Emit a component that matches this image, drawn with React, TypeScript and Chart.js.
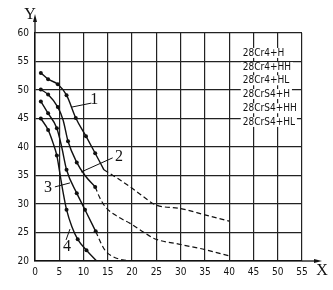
import React, { useEffect, useRef } from "react";
import { Chart, registerables } from "chart.js";
Chart.register(...registerables);

const xTicks = [0, 5, 10, 15, 20, 25, 30, 35, 40, 45, 50, 55];
const yTicks = [20, 25, 30, 35, 40, 45, 50, 55, 60];

const curve1X = [1.2, 2.7, 4.7, 6.5, 8.4, 10.5, 12.4, 14.2];
const curve1Y = [53, 51.9, 51, 49.1, 45.1, 41.9, 38.9, 36];
const curve1Dot = [1, 1, 1, 1, 1, 1, 1, 0];

const dash1X = [14.2, 17, 19.6, 22, 24.7, 30, 35, 40];
const dash1Y = [36, 34.5, 33, 31.5, 29.9, 29.2, 28.1, 27];

const curve2X = [1.2, 2.7, 4.7, 5.8, 6.8, 8.6, 10.3, 12.4];
const curve2Y = [50.1, 49.2, 47, 44.7, 41, 37.3, 35, 33];
const curve2Dot = [1, 1, 1, 0, 1, 1, 0, 1];

const dash2X = [12.4, 13.4, 14.4, 17, 19.6, 22.3, 24.4, 30, 35, 40];
const dash2Y = [33, 31, 29.6, 27.8, 26.6, 25.1, 24, 22.9, 22, 20.9];

const curve3X = [1.2, 2.7, 4.5, 5.5, 6.5, 8.6, 10.3, 12.5];
const curve3Y = [48, 45.9, 43.3, 40, 36, 31.9, 29, 25.2];
const curve3Dot = [1, 1, 1, 0, 1, 1, 1, 1];

const dash3X = [12.5, 13.5, 14.5, 16, 18, 20];
const dash3Y = [25.2, 23.3, 21.8, 20.8, 20.2, 20];

const curve4X = [1.2, 2.7, 3.8, 4.5, 5.2, 5.8, 6.5, 7.6, 8.8, 10.6, 12.7];
const curve4Y = [45, 43, 40.5, 38.5, 35, 32, 29, 26, 23.8, 21.9, 20];
const curve4Dot = [1, 1, 0, 1, 0, 0, 1, 0, 1, 1, 0];

const legendLabels = ["28Cr4+H", "28Cr4+HH", "28Cr4+HL", "28CrS4+H", "28CrS4+HH", "28CrS4+HL"];
const legendX = 42.8;
const legendY = [56.5, 54.0, 51.7, 49.3, 46.8, 44.4];

const curveLabels = ["1", "2", "3", "4"];
const curveLabelX = [12.2, 17.3, 2.7, 6.6];
const curveLabelY = [48.2, 38.2, 32.8, 22.5];
const leaderFromX = [7.56, 9.47, 4.1, 6.4];
const leaderFromY = [47, 35.6, 33, 23.7];
const leaderToX = [11.6, 16.0, 7.2, 7.2];
const leaderToY = [47.7, 38.1, 33.7, 25.6];

const toPts = (xs: number[], ys: number[]) => xs.map((x, i) => ({ x, y: ys[i] }));

const TICK_FONT = "'Liberation Sans Narrow', 'DejaVu Sans Condensed', Arial, sans-serif";
const SERIF = "'Liberation Serif', 'DejaVu Serif', serif";

const overlay = {
  id: "overlay",
  afterDraw(chart: any) {
    const { ctx, chartArea, scales } = chart;
    const xs = scales.x;
    const ys = scales.y;
    ctx.save();
    ctx.strokeStyle = "#111";
    ctx.fillStyle = "#111";
    ctx.lineWidth = 1.3;
    // Y axis arrow
    const ax = chartArea.left;
    ctx.beginPath();
    ctx.moveTo(ax, chartArea.top);
    ctx.lineTo(ax, chartArea.top - 15);
    ctx.stroke();
    ctx.beginPath();
    ctx.moveTo(ax, chartArea.top - 19);
    ctx.lineTo(ax - 2, chartArea.top - 11);
    ctx.lineTo(ax + 2, chartArea.top - 11);
    ctx.closePath();
    ctx.fill();
    // X axis arrow
    const ay = chartArea.bottom;
    ctx.beginPath();
    ctx.moveTo(chartArea.right, ay);
    ctx.lineTo(chartArea.right + 16, ay);
    ctx.stroke();
    ctx.beginPath();
    ctx.moveTo(chartArea.right + 20, ay);
    ctx.lineTo(chartArea.right + 12, ay - 2);
    ctx.lineTo(chartArea.right + 12, ay + 2);
    ctx.closePath();
    ctx.fill();
    // axis titles
    ctx.font = `16px ${SERIF}`;
    ctx.textAlign = "center";
    ctx.textBaseline = "middle";
    ctx.fillText("Y", ax - 5, chartArea.top - 18);
    ctx.fillText("X", chartArea.right + 20, ay + 10);
    // legend
    ctx.font = `10px ${TICK_FONT}`;
    ctx.textAlign = "left";
    legendLabels.forEach((t, i) => {
      const px = xs.getPixelForValue(legendX);
      const py = ys.getPixelForValue(legendY[i]);
      const w = ctx.measureText(t).width;
      ctx.fillStyle = "#fff";
      ctx.fillRect(px - 2, py - 5, w + 4, 10);
      ctx.fillStyle = "#111";
      ctx.fillText(t, px, py);
    });
    // curve labels and leaders
    ctx.lineWidth = 1;
    curveLabels.forEach((t, i) => {
      ctx.beginPath();
      ctx.moveTo(xs.getPixelForValue(leaderFromX[i]), ys.getPixelForValue(leaderFromY[i]));
      ctx.lineTo(xs.getPixelForValue(leaderToX[i]), ys.getPixelForValue(leaderToY[i]));
      ctx.stroke();
      ctx.font = `16px ${SERIF}`;
      ctx.textAlign = "center";
      ctx.fillText(t, xs.getPixelForValue(curveLabelX[i]), ys.getPixelForValue(curveLabelY[i]));
    });
    ctx.restore();
  },
};

export default function App() {
  const ref = useRef<HTMLCanvasElement>(null);
  useEffect(() => {
    document.body.style.margin = "0";
    const solid = (label: string, xs: number[], ys: number[], dots: number[]) => ({
      label,
      data: toPts(xs, ys),
      borderColor: "#111",
      backgroundColor: "#111",
      borderWidth: 1.4,
      pointRadius: dots.map((d) => (d ? 2 : 0)),
      pointBorderWidth: 0,
      cubicInterpolationMode: "monotone" as const,
    });
    const dashed = (label: string, xs: number[], ys: number[]) => ({
      label,
      data: toPts(xs, ys),
      borderColor: "#111",
      backgroundColor: "#111",
      borderWidth: 1.2,
      borderDash: [5, 3],
      pointRadius: 0,
      cubicInterpolationMode: "monotone" as const,
    });
    const chart = new Chart(ref.current!, {
      type: "line",
      data: {
        datasets: [
          solid("1", curve1X, curve1Y, curve1Dot),
          dashed("1 ext", dash1X, dash1Y),
          solid("2", curve2X, curve2Y, curve2Dot),
          dashed("2 ext", dash2X, dash2Y),
          solid("3", curve3X, curve3Y, curve3Dot),
          dashed("3 ext", dash3X, dash3Y),
          solid("4", curve4X, curve4Y, curve4Dot),
        ],
      },
      options: {
        animation: false,
        responsive: false,
        maintainAspectRatio: false,
        layout: { padding: { top: 33, right: 31, left: 0, bottom: 0 } },
        plugins: { legend: { display: false }, tooltip: { enabled: false } },
        scales: {
          x: {
            type: "linear",
            min: 0,
            max: 55,
            afterFit: (s: any) => { s.height = 29; },
            afterBuildTicks: (s: any) => { s.ticks = xTicks.map((v) => ({ value: v })); },
            grid: { color: "#222", lineWidth: 1.2, drawTicks: false },
            border: { color: "#111", width: 1.5 },
            ticks: { color: "#111", padding: 5, maxRotation: 0, font: { family: TICK_FONT, size: 10 } },
          },
          y: {
            type: "linear",
            min: 20,
            max: 60,
            afterFit: (s: any) => { s.width = 35; },
            afterBuildTicks: (s: any) => { s.ticks = yTicks.map((v) => ({ value: v })); },
            grid: { color: "#222", lineWidth: 1.2, drawTicks: false },
            border: { color: "#111", width: 1.5 },
            ticks: { color: "#111", padding: 6, font: { family: TICK_FONT, size: 10 } },
          },
        },
      },
      plugins: [overlay],
    });
    return () => chart.destroy();
  }, []);
  return (
    <div style={{ width: 333, height: 290, background: "#fff" }}>
      <canvas ref={ref} width={333} height={290} style={{ width: 333, height: 290, display: "block" }} />
    </div>
  );
}
